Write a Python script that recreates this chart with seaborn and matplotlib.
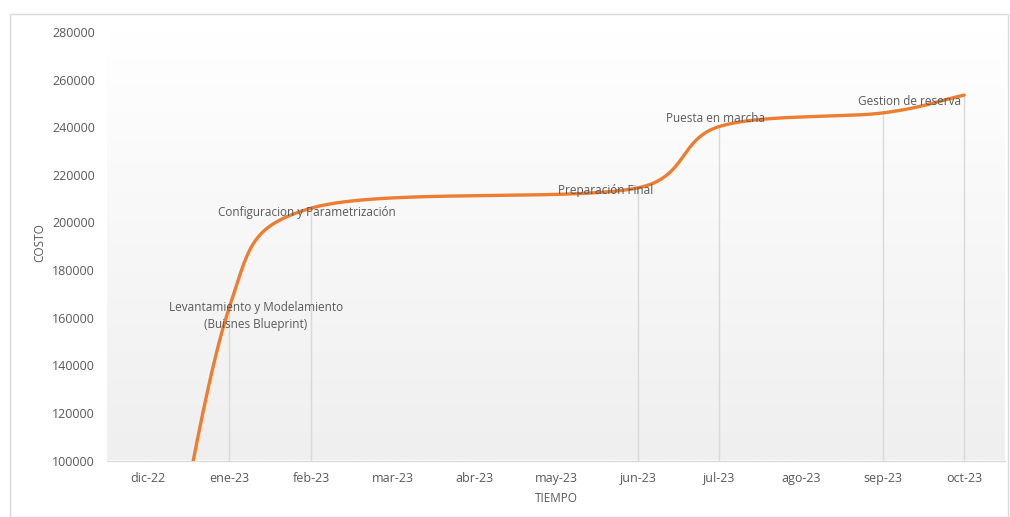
import numpy as np
import pandas as pd
import matplotlib
matplotlib.use("Agg")
import matplotlib.pyplot as plt
from matplotlib.patches import Rectangle
import seaborn as sns

# ---- data ----
months = ["dic-22", "ene-23", "feb-23", "mar-23", "abr-23", "may-23",
          "jun-23", "jul-23", "ago-23", "sep-23", "oct-23"]
point_months = ["dic-22", "ene-23", "feb-23", "jun-23", "jul-23", "sep-23", "oct-23"]
point_costs = [0, 164500, 206000, 214500, 240300, 246000, 253500]
phase_labels = ["Levantamiento y Modelamiento\n(Buisnes Blueprint)",
                "Configuracion y Parametrización",
                "Preparación Final",
                "Puesta en marcha",
                "Gestion de reserva"]
label_x = [1.32, 1.95, 5.61, 6.95, 9.33]
label_y = [160700, 204200, 213400, 243600, 250700]
y_ticks = list(range(100000, 280001, 20000))

W, H = 1010, 517
AX_L, AX_R, AX_T, AX_B = 107, 1005, 32, 460.5
XMIN, XMAX, YMIN, YMAX = -0.5, 10.5, 100000, 280000
sx = (AX_R - AX_L) / (XMAX - XMIN)
sy = (AX_B - AX_T) / (YMAX - YMIN)

# ---- Excel-style smoothed line (Bezier control points in screen space) ----
px = np.array([months.index(m) for m in point_months], dtype=float)
py = np.array(point_costs, dtype=float)
P = np.column_stack([px * sx, py * sy])
n = len(P)
curve = []
t = np.linspace(0, 1, 100)[:, None]
for i in range(n - 1):
    p0 = P[max(i - 1, 0)]
    p1, p2 = P[i], P[i + 1]
    p3 = P[min(i + 2, n - 1)]
    d12 = np.hypot(*(p2 - p1))
    v1 = (p2 - p0) * (1 / 3 if i == 0 else 1 / 6)
    v2 = (p3 - p1) * (1 / 3 if i == n - 2 else 1 / 6)
    l1, l2 = np.hypot(*v1), np.hypot(*v2)
    if l1 > d12 / 2:
        v1 = v1 * (d12 / 2) / l1
    if l2 > d12 / 2:
        v2 = v2 * (d12 / 2) / l2
    b1 = p1 + v1
    b2 = p2 - v2
    seg = ((1 - t) ** 3) * p1 + 3 * ((1 - t) ** 2) * t * b1 + 3 * (1 - t) * t ** 2 * b2 + t ** 3 * p2
    curve.append(seg if i == 0 else seg[1:])
curve = np.vstack(curve)
df = pd.DataFrame({"x": curve[:, 0] / sx, "costo": curve[:, 1] / sy})

# ---- style ----
sns.set_theme(style="white")
plt.rcParams["font.family"] = ["Open Sans", "DejaVu Sans"]
text_col = "#595959"

fig = plt.figure(figsize=(W / 100, H / 100), dpi=100)
ax = fig.add_axes([AX_L / W, (H - AX_B) / H, (AX_R - AX_L) / W, (AX_B - AX_T) / H])

# gradient background
grad = np.linspace(1.0, 0.0, 256)[:, None]
ax.imshow(grad, cmap=matplotlib.colors.LinearSegmentedColormap.from_list("g", ["#efefef", "#ffffff"]),
          extent=[XMIN, XMAX, YMIN, YMAX], aspect="auto", zorder=0, vmin=0, vmax=1)

# drop lines
for xm, v in zip(px, py):
    if v > YMIN:
        ax.plot([xm, xm], [YMIN, v], color="#d9d9d9", lw=1.0, zorder=1)

sns.lineplot(data=df, x="x", y="costo", ax=ax, color="#ED7D31", lw=2.4, sort=False, zorder=3)

for lab, lx, ly in zip(phase_labels, label_x, label_y):
    ax.text(lx, ly, lab, ha="center", va="center", fontsize=8.5, color=text_col,
            zorder=4, linespacing=1.35)

ax.set_xlim(XMIN, XMAX)
ax.set_ylim(YMIN, YMAX)
ax.set_xticks(range(len(months)))
ax.set_xticklabels(months)
ax.set_yticks(y_ticks)
ax.set_yticklabels([str(v) for v in y_ticks])
ax.tick_params(axis="both", length=0, labelsize=9, labelcolor=text_col)
ax.tick_params(axis="x", pad=8)
ax.tick_params(axis="y", pad=8.6)
for s in ["top", "right", "left"]:
    ax.spines[s].set_visible(False)
ax.spines["bottom"].set_color("#d9d9d9")
ax.spines["bottom"].set_linewidth(1.0)
ax.set_xlabel("TIEMPO", fontsize=8.5, color=text_col, labelpad=5.5)
ax.set_ylabel("COSTO", fontsize=8.5, color=text_col)
ax.yaxis.set_label_coords((46 - AX_L) / (AX_R - AX_L), (AX_B - 243) / (AX_B - AX_T))

# outer frame
fig.patches.append(Rectangle((10 / W, 0), (1008 - 10) / W, (H - 14) / H, transform=fig.transFigure,
                             fill=False, edgecolor="#d9d9d9", lw=1.0))

fig.savefig("out.png", dpi=100)
